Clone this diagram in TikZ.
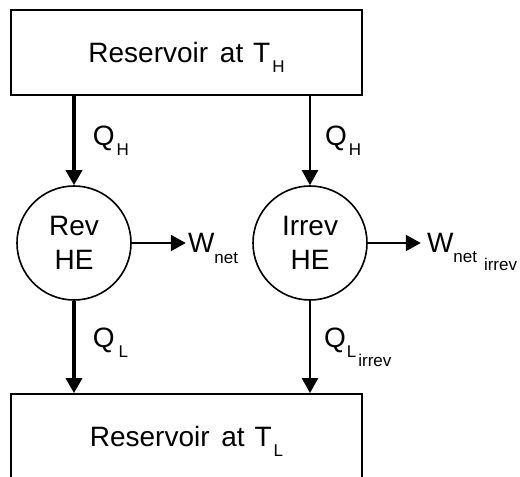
\documentclass[tikz,border=0pt]{standalone}
\usepackage{fontspec}
\setmainfont{Liberation Sans}
\usetikzlibrary{arrows.meta,positioning}

\newcommand{\lowtxt}[2]{\smash{\raisebox{#1}{\fontsize{17}{17}\selectfont #2}}}

\begin{document}
\begin{tikzpicture}[x=1pt, y=-1pt,
    reservoir/.style={draw, rectangle, line width=1.8pt,
                      minimum width=351pt, minimum height=85pt,
                      font=\fontsize{28}{34}\selectfont},
    engine/.style={draw, circle, line width=1.6pt, minimum size=114pt,
                   inner sep=0pt, align=center,
                   font=\fontsize{28}{34}\selectfont},
    lbl/.style={inner sep=0pt, font=\fontsize{28}{34}\selectfont},
    heavy/.style={-{Triangle[length=15pt,width=16pt]}, line width=3.5pt},
    light/.style={-{Triangle[length=15pt,width=16pt]}, line width=2.2pt},
  ]
    \path[use as bounding box, clip] (0,0) rectangle (520,477);

    \node[reservoir] (hot) at (186.5,52.5) {Reservoir\hspace{4pt} at\hspace{2pt} T\hspace{2pt}\lowtxt{-10pt}{H}};
    \node[engine] (rev) at (74,243) {Rev\\HE};
    \node[engine] (irr) at (310,243) {Irrev\\HE};
    \node[reservoir] (cold) at (186.5,436.5) {Reservoir\hspace{4pt} at\hspace{2pt} T\hspace{2pt}\lowtxt{-10pt}{L}};

    \node[lbl, right=54pt of rev, inner xsep=2pt] (wrev) {W\lowtxt{-10.5pt}{net}};
    \node[lbl, right=53pt of irr, inner xsep=6pt] (wirr) {W\lowtxt{-10pt}{net}\hspace{7pt}\lowtxt{-18pt}{irrev}};

    \draw[heavy] (hot.south -| rev.north) -- node[lbl, pos=.556, anchor=base west, xshift=17pt]
        {Q\hspace{2pt}\lowtxt{-10pt}{H}} (rev.north);
    \draw[light] (hot.south -| irr.north) -- node[lbl, pos=.556, anchor=base west, xshift=14pt]
        {Q\hspace{2pt}\lowtxt{-10pt}{H}} (irr.north);
    \draw[heavy] (rev.south) -- node[lbl, pos=.51, anchor=base west, xshift=17pt]
        {Q\hspace{4pt}\lowtxt{-10pt}{L}} (rev.south |- cold.north);
    \draw[light] (irr.south) -- node[lbl, pos=.51, anchor=base west, xshift=13pt]
        {Q\hspace{1pt}\lowtxt{-10pt}{L}\hspace{2pt}\lowtxt{-19pt}{irrev}} (irr.south |- cold.north);

    \draw[light] (rev) -- (wrev);
    \draw[light] (irr) -- (wirr);
  \end{tikzpicture}
\end{document}
